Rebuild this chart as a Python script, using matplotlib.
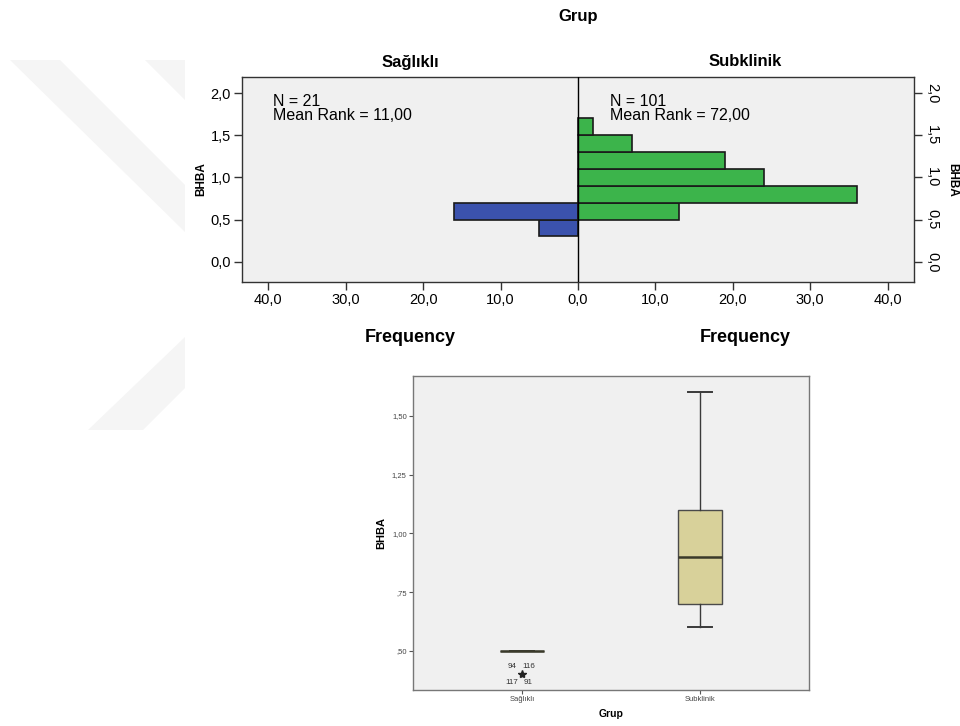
import matplotlib
matplotlib.use("Agg")
import matplotlib.pyplot as plt
from matplotlib.patches import Polygon
import numpy as np

plt.rcParams['font.family'] = ['Liberation Sans', 'DejaVu Sans']

# ---------------- data ----------------
groups = ["Sağlıklı", "Subklinik"]
bin_edges = [0.3, 0.5, 0.7, 0.9, 1.1, 1.3, 1.5, 1.7]
saglikli_counts = [5, 16, 0, 0, 0, 0, 0]
subklinik_counts = [0, 13, 36, 24, 19, 7, 2]
n_values = [21, 101]
mean_ranks = ["11,00", "72,00"]

freq_ticks = [-40, -30, -20, -10, 0, 10, 20, 30, 40]
freq_ticklabels = ["40,0", "30,0", "20,0", "10,0", "0,0", "10,0", "20,0", "30,0", "40,0"]
hist_yticks = [0.0, 0.5, 1.0, 1.5, 2.0]
hist_yticklabels = ["0,0", "0,5", "1,0", "1,5", "2,0"]

box_q1 = [0.5, 0.7]
box_med = [0.5, 0.9]
box_q3 = [0.5, 1.1]
box_whislo = [0.5, 0.6]
box_whishi = [0.5, 1.6]
outlier_value = 0.4
outlier_ids = ["94", "116", "117", "91"]
box_yticks = [0.50, 0.75, 1.00, 1.25, 1.50]
box_yticklabels = [",50", ",75", "1,00", "1,25", "1,50"]

# ---------------- figure ----------------
W, H = 960, 726
fig = plt.figure(figsize=(W / 100, H / 100), dpi=100)
fig.patch.set_facecolor("white")

def fx(px):
    return px / W

def fy(py):
    return 1 - py / H

# faint watermark shapes
wm = "#f5f5f5"
for pts in [
    [(10, 60), (60, 60), (185, 185), (185, 232)],
    [(145, 60), (185, 60), (185, 100)],
    [(185, 337), (185, 388), (143, 430), (88, 430)],
]:
    fig.patches.append(Polygon([(fx(x), fy(y)) for x, y in pts], closed=True,
                               transform=fig.transFigure, facecolor=wm,
                               edgecolor="none", zorder=0))

# ---------------- pyramid histogram ----------------
ax = fig.add_axes([fx(242), fy(282), fx(914) - fx(242), fy(77) - fy(282)])
ax.set_facecolor("#f0f0f0")
lows = np.array(bin_edges[:-1])
heights = np.diff(bin_edges)
blue = "#3b52ad"
green = "#3cb44b"
for lo, h, c in zip(lows, heights, saglikli_counts):
    if c > 0:
        ax.barh(lo, -c, height=h, align="edge", color=blue, edgecolor="#1a1a1a", linewidth=1.2, zorder=2)
for lo, h, c in zip(lows, heights, subklinik_counts):
    if c > 0:
        ax.barh(lo, c, height=h, align="edge", color=green, edgecolor="#1a1a1a", linewidth=1.2, zorder=2)
ax.axvline(0, color="black", linewidth=1.0, zorder=3)
ax.set_xlim(-43.4, 43.4)
ax.set_ylim(-0.24, 2.19)
ax.set_xticks(freq_ticks)
ax.set_xticklabels(freq_ticklabels, fontsize=10.5)
ax.set_yticks(hist_yticks)
ax.set_yticklabels(hist_yticklabels, fontsize=10.5)
ax.tick_params(direction="out", length=6, width=1.0, color="#333333", pad=2)
for s in ax.spines.values():
    s.set_color("#333333")
    s.set_linewidth(1.0)
ax.set_ylabel("BHBA", fontsize=8.5, fontweight="bold", labelpad=2)

ax2 = ax.twinx()
ax2.set_ylim(ax.get_ylim())
ax2.set_yticks(hist_yticks)
ax2.set_yticklabels(hist_yticklabels, fontsize=10.5, rotation=-90, va="center")
ax2.tick_params(direction="out", length=6, width=1.0, color="#333333", pad=2)
ax2.set_ylabel("BHBA", fontsize=8.5, fontweight="bold", rotation=-90, labelpad=14)
for s in ax2.spines.values():
    s.set_visible(False)

# annotations (N / Mean Rank)
for xpx, n, mr in [(273, n_values[0], mean_ranks[0]), (610, n_values[1], mean_ranks[1])]:
    fig.text(fx(xpx), fy(101), f"N = {n}", ha="left", va="center", fontsize=11.5)
    fig.text(fx(xpx), fy(116), f"Mean Rank = {mr}", ha="left", va="center", fontsize=11.5)

fig.text(fx(578), fy(17), "Grup", ha="center", va="center", fontsize=12, fontweight="bold")
fig.text(fx(410), fy(62), groups[0], ha="center", va="center", fontsize=12, fontweight="bold")
fig.text(fx(745), fy(62), groups[1], ha="center", va="center", fontsize=12, fontweight="bold")
fig.text(fx(410), fy(338), "Frequency", ha="center", va="center", fontsize=13, fontweight="bold")
fig.text(fx(745), fy(338), "Frequency", ha="center", va="center", fontsize=13, fontweight="bold")

# ---------------- box plot ----------------
bx = fig.add_axes([fx(413), fy(690), fx(809) - fx(413), fy(376) - fy(690)])
bx.set_facecolor("#f0f0f0")
stats = []
for i in range(2):
    stats.append(dict(med=box_med[i], q1=box_q1[i], q3=box_q3[i],
                      whislo=box_whislo[i], whishi=box_whishi[i], fliers=[], label=groups[i]))
bx.bxp(stats, positions=[1, 2], widths=0.25, capwidths=0.13, patch_artist=True,
       boxprops=dict(facecolor="#d8d19a", edgecolor="#4a4a4a", linewidth=1.0),
       medianprops=dict(color="#3a3a2a", linewidth=1.8),
       whiskerprops=dict(color="#3a3a3a", linewidth=1.0),
       capprops=dict(color="#3a3a3a", linewidth=1.4),
       showfliers=False)
bx.plot([1], [outlier_value], marker="*", color="#222222", markersize=6, linestyle="none")
offsets = [(-10, 8), (7, 8), (-10, -8), (6, -8)]
for lab, off in zip(outlier_ids, offsets):
    bx.annotate(lab, (1, outlier_value), xytext=off, textcoords="offset pixels",
                ha="center", va="center", fontsize=5.8, color="#333333")
bx.set_xlim(0.388, 2.612)
bx.set_ylim(0.334, 1.67)
bx.set_yticks(box_yticks)
bx.set_yticklabels(box_yticklabels, fontsize=5.5, color="#444444")
bx.set_xticks([1, 2])
bx.set_xticklabels(groups, fontsize=5.5, color="#444444")
bx.tick_params(direction="out", length=3, width=0.8, color="#555555", pad=1.5)
for s in bx.spines.values():
    s.set_color("#777777")
    s.set_linewidth(1.0)
bx.set_ylabel("BHBA", fontsize=8, fontweight="bold", labelpad=4)
bx.set_xlabel("Grup", fontsize=7.5, fontweight="bold", labelpad=4)

fig.savefig("out.png", dpi=100)
